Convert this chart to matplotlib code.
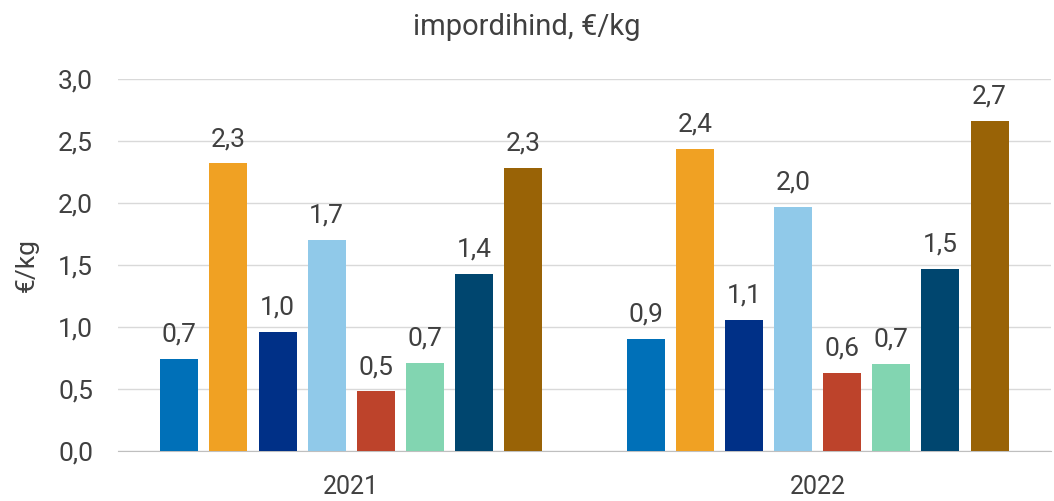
import matplotlib
matplotlib.use("Agg")
import matplotlib.pyplot as plt
import numpy as np

plt.rcParams["font.family"] = ["Roboto", "DejaVu Sans"]

years = ["2021", "2022"]
values_2021 = [0.74, 2.32, 0.96, 1.70, 0.48, 0.71, 1.43, 2.28]
values_2022 = [0.90, 2.44, 1.06, 1.97, 0.63, 0.70, 1.47, 2.66]
colors = ["#0070b8", "#f0a123", "#003087", "#90c9e9", "#bd432b",
          "#82d5b1", "#00466f", "#996306"]
yticks = [0.0, 0.5, 1.0, 1.5, 2.0, 2.5, 3.0]

fig, ax = plt.subplots(figsize=(10.54, 5.01), dpi=100)
fig.subplots_adjust(left=0.112, right=0.997, top=0.842, bottom=0.1)

data = np.array([values_2021, values_2022])
n = data.shape[1]
pitch = 0.1053
width = 0.0815
x = np.arange(len(years))
for i in range(n):
    xs = x + pitch * (i - (n - 1) / 2)
    bars = ax.bar(xs, data[:, i], width=width, color=colors[i], zorder=3)
    for b, v in zip(bars, data[:, i]):
        ax.text(b.get_x() + b.get_width() / 2, v + 0.1, f"{v:.1f}".replace(".", ","),
                ha="center", va="bottom", fontsize=19, color="#404040")

ax.set_xlim(-0.5, 1.5)
ax.set_ylim(0, 3.0)
ax.set_yticks(yticks)
ax.set_yticklabels([f"{t:.1f}".replace(".", ",") for t in yticks])
ax.set_xticks(x)
ax.set_xticklabels(years)
ax.yaxis.grid(True, color="#d9d9d9", linewidth=1)
ax.set_axisbelow(True)
for side in ("top", "right", "left"):
    ax.spines[side].set_visible(False)
ax.spines["bottom"].set_color("#bfbfbf")
ax.tick_params(axis="y", length=0, labelsize=19, colors="#404040", pad=18)
ax.tick_params(axis="x", length=0, labelsize=18, colors="#404040", pad=17)
ax.set_ylabel("€/kg", fontsize=19, color="#404040", labelpad=14)
fig.suptitle("impordihind, €/kg", fontsize=21, color="#404040", y=0.975)

fig.savefig("out.png", dpi=100)
